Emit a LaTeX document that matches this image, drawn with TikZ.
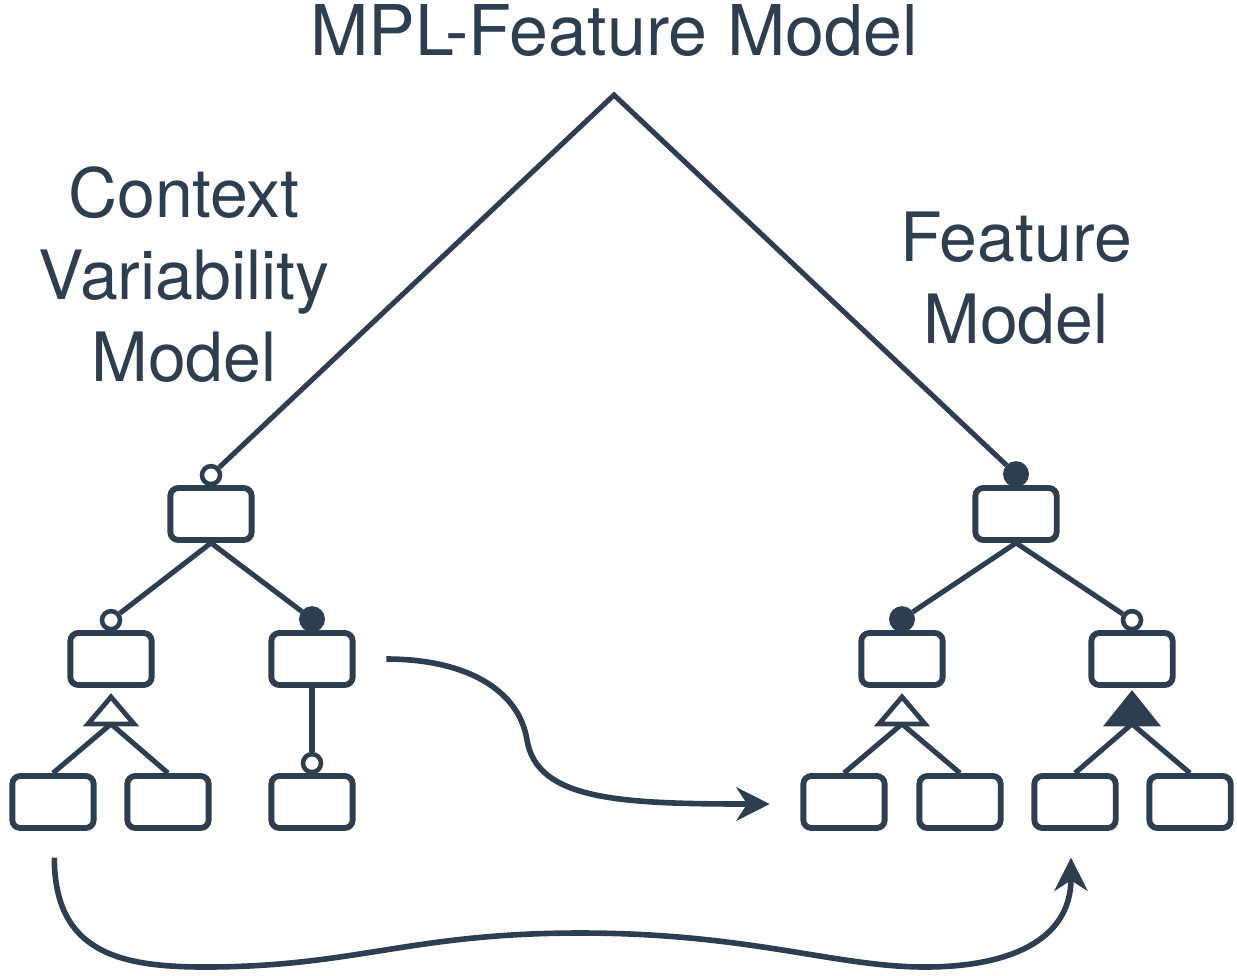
\documentclass[tikz,border=0pt]{standalone}
\usepackage{fontspec}
\setmainfont{TeX Gyre Heros}
\usepackage{tikz}
\usetikzlibrary{%
	calc,%
	arrows.meta,%
	backgrounds
}
\definecolor{ink}{HTML}{2C3E50}
\tikzset{
	feat/.style={draw=ink, fill=white, line width=4.4pt, rounded corners=6pt, minimum width=61pt, minimum height=39pt, inner sep=0pt},
	opt/.style={circle, draw=ink, fill=white, line width=3.4pt, minimum size=13.5pt, inner sep=0pt, anchor=south},
	mand/.style={circle, draw=ink, fill=ink, line width=3.4pt, minimum size=16pt, inner sep=0pt, anchor=south},
	edge/.style={draw=ink, line width=3.8pt},
	altgrp/.style={draw=ink, fill=white, line width=3.6pt, line join=miter},
	orgrp/.style={draw=ink, fill=ink, line width=3.6pt, line join=miter},
	flow/.style={draw=ink, line width=4.2pt, -{Stealth[length=25pt, width=25pt, inset=8pt]}},
	lbl/.style={text=ink, font=\fontsize{51}{61.5}\selectfont, inner sep=0pt}
}

\begin{document}
\begin{tikzpicture}[x=0.75pt, y=-0.75pt]
		\useasboundingbox (0,0) rectangle (1237,975);
	
		% Labels
		\node[lbl, anchor=base, font=\fontsize{52.5}{61.5}\selectfont] (mpl) at (614,55) {MPL-Feature Model};
		\node[lbl, align=center, anchor=north] (cvm) at (184,166) {Context\\Variability\\Model};
		\node[lbl, align=center, anchor=north] (fm) at (1016,212) {Feature\\Model};
		\coordinate (apex) at (614,95);
	
		% Context variability model
		\node[feat] (cr) at (211,514) {};
		\node[feat] (ca) at (111,659) {};
		\node[feat] (cb) at (312,659) {};
		\node[feat] (caa) at (53,802) {};
		\node[feat] (cab) at (168,802) {};
		\node[feat] (cba) at (312,802) {};
	
		% Feature model
		\node[feat] (fr) at (1016,514) {};
		\node[feat] (fa) at (902,659) {};
		\node[feat] (fb) at (1132,659) {};
		\node[feat] (faa) at (844,802) {};
		\node[feat] (fab) at (960,802) {};
		\node[feat] (fba) at (1075,802) {};
		\node[feat] (fbb) at (1190,802) {};
	
		% Optional / mandatory markers
		\foreach \fnode in {cr,ca,cba,fb}
		\node[opt] (\fnode-m) at ([yshift=-1pt]\fnode.north) {};
		\foreach \fnode in {cb,fr,fa}
		\node[mand] (\fnode-m) at ([yshift=-1.5pt]\fnode.north) {};
	
		% Group points
		\foreach \fnode in {ca,fa,fb}
		\coordinate (\fnode-g) at ([yshift=-27pt]\fnode.south);
	
		% Edges
		\begin{scope}[on background layer]
			\draw[edge, line join=miter] (cr-m) -- (apex) -- (fr-m);
			\draw[edge] (cr.south) -- (ca-m);
			\draw[edge] (cr.south) -- (cb-m);
			\draw[edge] (cb.south) -- (cba-m);
			\draw[edge] (fr.south) -- (fa-m);
			\draw[edge] (fr.south) -- (fb-m);
			\draw[edge] (ca-g) -- (caa.north);
			\draw[edge] (ca-g) -- (cab.north);
			\draw[edge] (fa-g) -- (faa.north);
			\draw[edge] (fa-g) -- (fab.north);
			\draw[edge] (fb-g) -- (fba.north);
			\draw[edge] (fb-g) -- (fbb.north);
		\end{scope}
	
		% Group triangles
		\draw[altgrp] (ca-g) ++(-23,0) -- ++(23,-27) -- ++(23,27) -- cycle;
		\draw[altgrp] (fa-g) ++(-23,0) -- ++(23,-27) -- ++(23,27) -- cycle;
		\draw[orgrp] (fb-g) ++(-24,0) -- ++(24,-30) -- ++(24,30) -- cycle;
	
		% Mappings
		\coordinate (m1) at ([xshift=23pt]cb.east);
		\coordinate (m2) at ([xshift=-23pt,yshift=-1.5pt]faa.west);
		\coordinate (bend) at (527,740);
		\draw[flow] (m1) .. controls +(80,0) and +(-8,-50) .. (bend) .. controls +(10,60) and +(-150,0) .. (m2);
	
		\coordinate (b0) at ([xshift=1pt,yshift=-20pt]caa.south);
		\coordinate (b3) at ([xshift=-3pt,yshift=-20pt]fba.south);
		\coordinate (lowl) at (205,967);
		\coordinate (crest) at (580,933);
		\coordinate (lowr) at (925,967);
		\draw[flow] (b0) .. controls +(0,95) and +(-85,0) .. (lowl) .. controls +(150,0) and +(-170,0) .. (crest) .. controls +(170,0) and +(-90,0) .. (lowr) .. controls +(80,0) and +(0,85) .. (b3);
	\end{tikzpicture}
\end{document}
